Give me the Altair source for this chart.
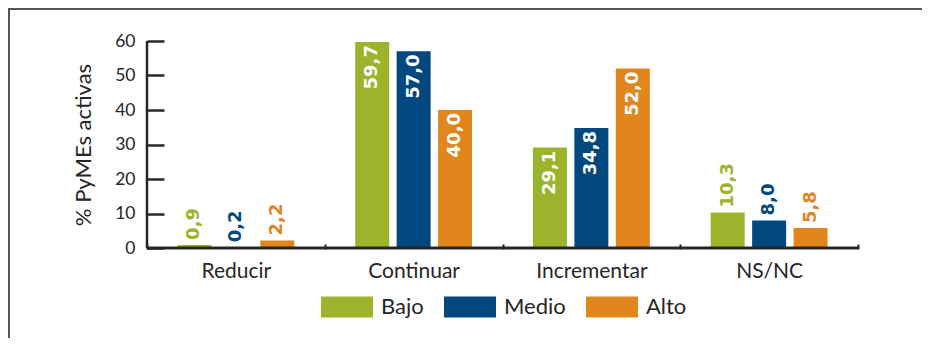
import altair as alt
import pandas as pd

categories = ["Reducir", "Continuar", "Incrementar", "NS/NC"]
levels = ["Bajo", "Medio", "Alto"]
bajo = [0.9, 59.7, 29.1, 10.3]
medio = [0.2, 57.0, 34.8, 8.0]
alto = [2.2, 40.0, 52.0, 5.8]
colors = ["#9CB42B", "#00487F", "#E1861D"]
y_ticks = [0, 10, 20, 30, 40, 50, 60]
y_title = "% PyMEs activas"

series = {"Bajo": bajo, "Medio": medio, "Alto": alto}
rows = []
for lvl in levels:
    for cat, v in zip(categories, series[lvl]):
        rows.append({"cat": cat, "nivel": lvl, "v": v})
df = pd.DataFrame(rows)

W, H = 711, 207
DARK = "#262626"

color_scale = alt.Scale(domain=levels, range=colors)
y_scale = alt.Scale(domain=[0, 60], nice=False)
y_axis = alt.Axis(values=y_ticks, offset=-17, tickSize=17, tickWidth=2.5,
                  tickColor=DARK, domain=False, grid=False,
                  labelOverlap=False,
                  labelFont="Lato", labelFontSize=17.5, labelColor=DARK,
                  labelPadding=12, titleFont="Lato", titleFontSize=22,
                  titleFontWeight="normal", titleColor=DARK,
                  titlePadding=19)

base = alt.Chart(df).transform_calculate(
    lbl="replace(format(datum.v, '.1f'), '.', ',')"
).encode(
    x=alt.X("cat:N", sort=categories, title=None,
            scale=alt.Scale(paddingInner=0, paddingOuter=0),
            axis=alt.Axis(orient="bottom", offset=-4, tickSize=5, tickWidth=2,
                          tickColor=DARK, tickBand="extent", domain=False,
                          labelAngle=0, labelFont="Lato", labelFontSize=21,
                          labelColor=DARK, labelPadding=11, grid=False)),
    xOffset=alt.XOffset("nivel:N", sort=levels,
                        scale=alt.Scale(paddingInner=0.18, paddingOuter=0.735)),
    y=alt.Y("v:Q", title=y_title, scale=y_scale, axis=y_axis),
)

bars = base.mark_bar().encode(
    color=alt.Color("nivel:N", sort=levels, scale=color_scale,
                    legend=alt.Legend(orient="none", legendX=174, legendY=240,
                                      direction="horizontal", title=None,
                                      symbolType="M-1,-0.4H1V0.4H-1Z",
                                      symbolSize=2704, symbolStrokeWidth=0,
                                      symbolOpacity=1,
                                      labelFont="Lato", labelFontSize=22,
                                      labelColor=DARK, labelOffset=8,
                                      columnPadding=20, padding=0))
)

inside = base.mark_text(angle=270, align="right", baseline="middle", dx=-3,
                        color="white", font="DejaVu Sans", fontWeight="bold",
                        fontSize=18).encode(text="lbl:N").transform_filter("datum.v > 20")

outside = base.mark_text(angle=270, align="left", baseline="middle", dx=5,
                         font="DejaVu Sans", fontWeight="bold",
                         fontSize=18).encode(
    text="lbl:N",
    color=alt.Color("nivel:N", sort=levels, scale=color_scale, legend=None),
).transform_filter("datum.v <= 20")

one = alt.Data(values=[{"v": 0}])
baseline = alt.Chart(one).mark_rule(color=DARK, strokeWidth=3).encode(
    y=alt.Y("v:Q", title=y_title, scale=y_scale, axis=y_axis))
yline = alt.Chart(one).mark_rule(color=DARK, strokeWidth=2.5).encode(x=alt.value(0))
frame_top = alt.Chart(one).mark_rule(color="#555555", strokeWidth=2).encode(
    x=alt.value(-139), x2=alt.value(W + 64), y=alt.value(-32))
frame_left = alt.Chart(one).mark_rule(color="#555555", strokeWidth=2).encode(
    x=alt.value(-138), y=alt.value(-33), y2=alt.value(H + 90))

chart = alt.layer(bars, inside, outside, baseline, yline, frame_top, frame_left).properties(
    width=W, height=H,
    autosize=alt.AutoSizeParams(type="none"),
    padding={"left": 139, "top": 33, "right": 64, "bottom": 90},
    background="white",
).configure_view(stroke=None)

chart.save("out.html", embed_options={"renderer": "svg", "actions": False})
